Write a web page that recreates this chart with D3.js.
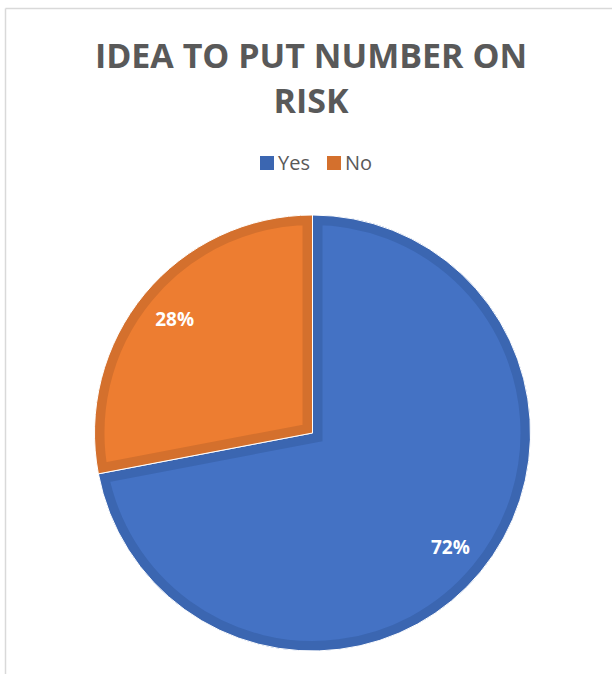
<!DOCTYPE html>
<html>
<head>
<meta charset="utf-8">
<script src="https://cdn.jsdelivr.net/npm/d3@7"></script>
<style>
  body { margin: 0; background: #fff; }
  svg { display: block; }
</style>
</head>
<body>
<div id="chart"></div>
<script>
// data
const categories = ["Yes", "No"];
const shares = [72, 28];
const titleLines = ["IDEA TO PUT NUMBER ON", "RISK"];

const W = 612, H = 675;
const fills = ["#4472C4", "#ED7D31"];
const edges = ["#3B66B1", "#D4702D"];

const svg = d3.select("#chart").append("svg")
    .attr("width", W)
    .attr("height", H);

// chart frame (only top and left edges visible in the crop)
svg.append("line").attr("x1", 5.5).attr("y1", 8.5).attr("x2", W).attr("y2", 8.5)
    .attr("stroke", "#d9d9d9").attr("stroke-width", 1.5);
svg.append("line").attr("x1", 5.5).attr("y1", 8.5).attr("x2", 5.5).attr("y2", 674)
    .attr("stroke", "#d9d9d9").attr("stroke-width", 1.5);

// title
svg.append("g").selectAll("text")
    .data(titleLines)
    .join("text")
    .attr("x", 311)
    .attr("y", (d, i) => 68 + i * 45)
    .attr("text-anchor", "middle")
    .style("font-family", "'Open Sans', sans-serif")
    .style("font-weight", "700")
    .style("font-size", "34px")
    .style("fill", "#595959")
    .text(d => d);

// legend
const legendX = [260, 327];
const legend = svg.append("g").selectAll("g")
    .data(categories)
    .join("g")
    .attr("transform", (d, i) => `translate(${legendX[i]},156)`);
legend.append("rect")
    .attr("width", 14).attr("height", 14)
    .attr("fill", (d, i) => edges[i]);
legend.append("text")
    .attr("x", 18).attr("y", 14)
    .style("font-family", "'Open Sans', sans-serif")
    .style("font-size", "20px")
    .style("fill", "#595959")
    .text(d => d);

// pie
const cx = 312.5, cy = 433, r = 218;
const pie = d3.pie().sort(null).value(d => d.v);
const arcs = pie(categories.map((c, i) => ({ c, v: shares[i], i })));
const arc = d3.arc().innerRadius(0).outerRadius(r);
const labelArc = d3.arc().innerRadius(179).outerRadius(179);

const g = svg.append("g").attr("transform", `translate(${cx},${cy})`);
const defs = svg.append("defs");

arcs.forEach((a, k) => {
    defs.append("clipPath").attr("id", "clip" + k)
        .append("path").attr("d", arc(a));
});

const slices = g.selectAll(".slice")
    .data(arcs)
    .join("g")
    .attr("class", "slice");

// inner darker band: a wide stroke clipped to the slice itself
slices.append("path")
    .attr("d", arc)
    .attr("fill", d => fills[d.data.i])
    .attr("stroke", d => edges[d.data.i])
    .attr("stroke-width", 20)
    .attr("clip-path", (d, k) => `url(#clip${k})`);

slices.append("path")
    .attr("d", arc)
    .attr("fill", "none")
    .attr("stroke", "#fff")
    .attr("stroke-width", 1);

g.selectAll(".lbl")
    .data(arcs)
    .join("text")
    .attr("class", "lbl")
    .attr("transform", d => `translate(${labelArc.centroid(d)})`)
    .attr("text-anchor", "middle")
    .attr("dy", "0.36em")
    .style("font-family", "'Open Sans', sans-serif")
    .style("font-weight", "700")
    .style("font-size", "19px")
    .style("fill", "#fff")
    .text(d => d.data.v + "%");
</script>
</body>
</html>
